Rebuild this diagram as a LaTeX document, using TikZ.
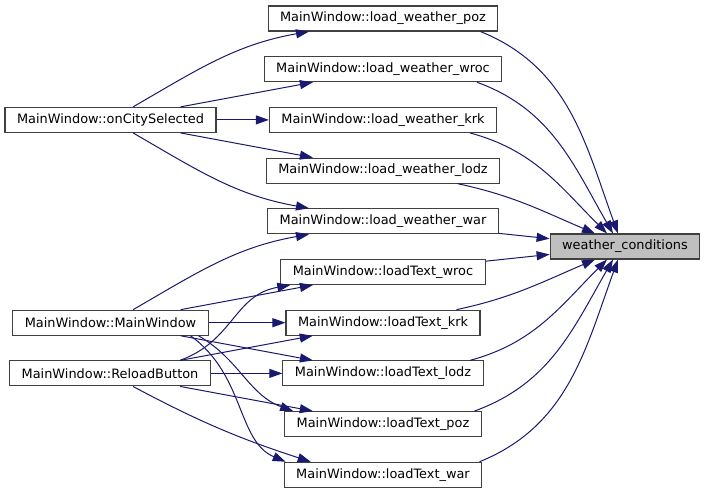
\documentclass[tikz,border=0pt]{standalone}
\usepackage{fontspec}
\setmainfont{DejaVu Sans}
\usepackage{tikz}
\usetikzlibrary{arrows.meta, positioning, calc}
\definecolor{edgeblue}{RGB}{25,25,112}
\definecolor{boxgray}{RGB}{64,64,64}
\definecolor{rootgray}{RGB}{191,191,191}
\tikzstyle{fn}   = [rectangle, draw=boxgray, fill=white, line width=1.1pt,
                    minimum height=25pt, inner xsep=12pt, inner ysep=0pt,
                    font=\fontsize{12.9}{15}\selectfont]
\tikzstyle{root} = [fn, fill=rootgray]
\tikzstyle{call} = [-{Triangle[length=13pt,width=9pt]}, color=edgeblue, line width=1pt]

\begin{document}
\begin{tikzpicture}[x=1pt, y=1pt, node distance=24.6pt]
    \useasboundingbox (0,0) rectangle (705,-493);

    \node[fn] (lwpoz) at (383,-18.5) {MainWindow::load\_weather\_poz};
    \node[fn, below=of lwpoz]  (lwwroc) {MainWindow::load\_weather\_wroc};
    \node[fn, below=of lwwroc] (lwkrk)  {MainWindow::load\_weather\_krk};
    \node[fn, below=of lwkrk]  (lwlodz) {MainWindow::load\_weather\_lodz};
    \node[fn, below=of lwlodz] (lwwar)  {MainWindow::load\_weather\_war};
    \node[fn, below=of lwwar]  (ltwroc) {MainWindow::loadText\_wroc};
    \node[fn, below=of ltwroc] (ltkrk)  {MainWindow::loadText\_krk};
    \node[fn, below=of ltkrk]  (ltlodz) {MainWindow::loadText\_lodz};
    \node[fn, below=of ltlodz] (ltpoz)  {MainWindow::loadText\_poz};
    \node[fn, below=of ltpoz]  (ltwar)  {MainWindow::loadText\_war};

    \node[fn] (ocs) at (110.5,0 |- lwkrk)  {MainWindow::onCitySelected};
    \node[fn] (mw)  at (110.5,0 |- ltkrk)  {MainWindow::MainWindow};
    \node[fn] (rb)  at (110,0 |- ltlodz)   {MainWindow::ReloadButton};

    \node[root] (wc) at (625,-246.5) {weather\_conditions};

    \draw[call] (ocs) to[out=30,in=190] (lwpoz);
    \draw[call] (ocs) -- (lwwroc);
    \draw[call] (ocs) -- (lwkrk);
    \draw[call] (ocs) -- (lwlodz);
    \draw[call] (ocs) to[out=-30,in=170] (lwwar);

    \draw[call] (mw) to[out=30,in=190] (lwwar);
    \draw[call] (mw) -- (ltwroc);
    \draw[call] (mw) -- (ltkrk);
    \draw[call] (mw) -- (ltlodz);
    \draw[call] ([xshift=88pt]mw.south) to[out=-30,in=160] ([xshift=9pt]ltpoz.north west);
    \draw[call] ([xshift=80pt]mw.south) to[out=-36,in=157,out looseness=1.1,in looseness=0.86] ([xshift=2pt]ltwar.north west);

    \draw[call] ([xshift=70pt]rb.north) to[out=20,in=190,looseness=1.1] ([xshift=10pt]ltwroc.south west);
    \draw[call] (rb) -- (ltkrk);
    \draw[call] (rb) -- (ltlodz);
    \draw[call] (rb) -- (ltpoz);
    \draw[call] ([xshift=23pt]rb.south) to[out=-28,in=162] ([xshift=27pt]ltwar.north west);

    \draw[call] ([xshift=97.5pt]lwpoz.south) to[out=-22,in=110] ([xshift=-7pt]wc.north);
    \draw[call] ([xshift=94pt]lwwroc.south) to[out=-20,in=120] ([xshift=-12pt]wc.north);
    \draw[call] ([xshift=87pt]lwkrk.south) to[out=-15,in=135] ([xshift=-18pt]wc.north);
    \draw[call] ([xshift=74.5pt]lwlodz.south) to[out=-12,in=157] ([xshift=-30pt]wc.north);
    \draw[call] (lwwar) -- (wc);
    \draw[call] (ltwroc) -- (wc);
    \draw[call] ([xshift=73.5pt]ltkrk.north) to[out=12,in=203] ([xshift=-30pt]wc.south);
    \draw[call] ([xshift=87pt]ltlodz.north) to[out=15,in=225] ([xshift=-18pt]wc.south);
    \draw[call] ([xshift=91.5pt]ltpoz.north) to[out=20,in=240] ([xshift=-12pt]wc.south);
    \draw[call] ([xshift=96.5pt]ltwar.north) to[out=22,in=250] ([xshift=-7pt]wc.south);
\end{tikzpicture}
\end{document}
